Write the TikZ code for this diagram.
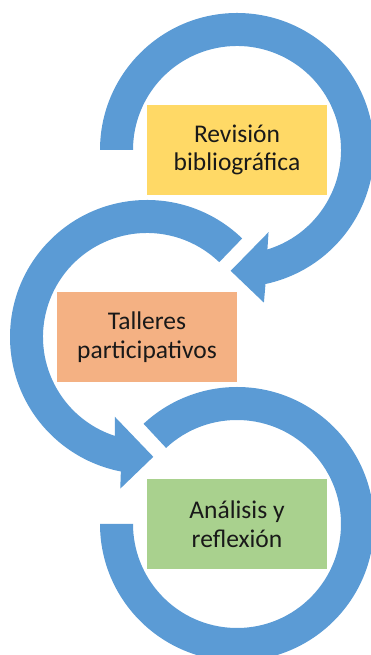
\documentclass[tikz,border=0pt]{standalone}
\usepackage{fontspec}
\setmainfont{Carlito}
\usetikzlibrary{positioning,calc}
\definecolor{ringblue}{HTML}{5B9BD5}
\definecolor{revfill}{HTML}{FFD966}
\definecolor{talfill}{HTML}{F4B183}
\definecolor{anafill}{HTML}{A9D18E}

\begin{document}
\begin{tikzpicture}[x=1pt,y=1pt,node distance=187pt and 90pt,on grid,
  box/.style={minimum width=180pt,minimum height=90pt,inner sep=0pt,align=center,
    text=black!90,font=\fontsize{25.5}{28.5}\selectfont},
  ring/.style={fill=ringblue}]
  \useasboundingbox (0,0) rectangle (370,655);
  \node[box,fill=revfill] (rev) at (237,505)      {Revisión\\bibliográfica};
  \node[box,fill=talfill] (tal) [below left =of rev] {Talleres\\participativos};
  \node[box,fill=anafill] (ana) [below right=of tal] {Análisis y\\reflexión};
% circular arrows around the boxes
\fill[ring] ($(rev.center)+(180:137)$) arc[start angle=180,end angle=-78,radius=137]
      -- ($(rev.center)+(-80:155)$) -- ($(rev.center)+(-93:121)$)
      -- ($(rev.center)+(-69:88)$) -- ($(rev.center)+(-73:104)$)
      arc[start angle=-73,end angle=180,radius=104] -- cycle;
\fill[ring] ($(tal.center)+(46:137)$) arc[start angle=46,end angle=259,radius=137]
      -- ($(tal.center)+(260:154)$) -- ($(tal.center)+(273:120)$)
      -- ($(tal.center)+(248:86)$) -- ($(tal.center)+(252:104)$)
      arc[start angle=252,end angle=46,radius=104] -- cycle;
\fill[ring] ($(ana.center)+(180:137)$) arc[start angle=180,end angle=493,radius=137]
      -- ($(ana.center)+(133:104)$)
      arc[start angle=493,end angle=180,radius=104] -- cycle;
\end{tikzpicture}
\end{document}
